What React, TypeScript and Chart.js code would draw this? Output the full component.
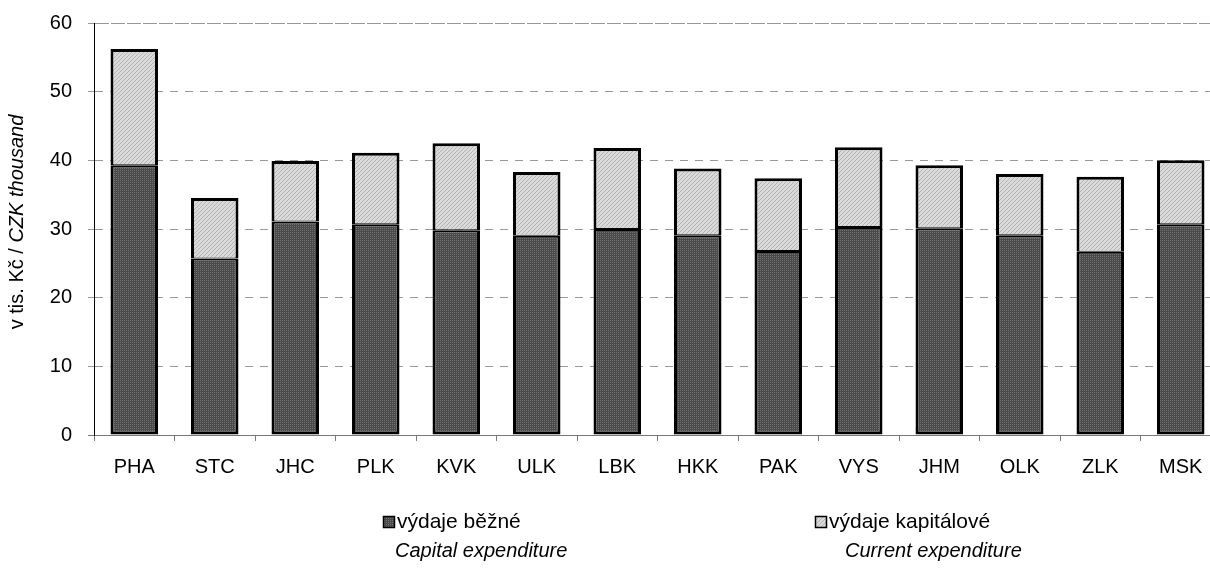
import React, { useEffect, useRef } from "react";
import { Chart, registerables } from "chart.js";

Chart.register(...registerables);

const categories = ["PHA", "STC", "JHC", "PLK", "KVK", "ULK", "LBK", "HKK", "PAK", "VYS", "JHM", "OLK", "ZLK", "MSK"];
const currentValues = [39.3, 25.7, 31.1, 30.7, 29.8, 29.0, 30.0, 29.1, 26.8, 30.3, 30.1, 29.1, 26.7, 30.7];
const capitalValues = [16.9, 8.8, 8.8, 10.4, 12.7, 9.3, 11.8, 9.7, 10.6, 11.6, 9.2, 8.9, 10.9, 9.3];
const seriesLabels = ["výdaje běžné", "výdaje kapitálové"];
const seriesSubtitles = ["Capital expenditure", "Current expenditure"];
const yTitleNormal = "v tis. Kč / ";
const yTitleItalic = "CZK thousand";

const FONT = "'Liberation Sans', Arial, sans-serif";

function makePattern(kind: "dark" | "light"): CanvasPattern | string {
  const c = document.createElement("canvas");
  c.width = 4;
  c.height = 4;
  const g = c.getContext("2d");
  if (!g) return kind === "dark" ? "#5a5a5a" : "#d2d2d2";
  if (kind === "dark") {
    g.fillStyle = "#4a4a4a";
    g.fillRect(0, 0, 4, 4);
    g.fillStyle = "#727272";
    g.fillRect(0, 0, 1, 1);
    g.fillRect(2, 2, 1, 1);
    g.fillRect(2, 0, 1, 1);
    g.fillRect(0, 2, 1, 1);
  } else {
    g.fillStyle = "#dadada";
    g.fillRect(0, 0, 4, 4);
    g.fillStyle = "#b4b4b4";
    for (let i = 0; i < 4; i++) g.fillRect(i, 3 - i, 1, 1);
  }
  const p = g.createPattern(c, "repeat");
  return p || (kind === "dark" ? "#5a5a5a" : "#d2d2d2");
}

export default function App() {
  const ref = useRef<HTMLCanvasElement | null>(null);

  useEffect(() => {
    const canvas = ref.current;
    if (!canvas) return;
    const darkFill = makePattern("dark");
    const lightFill = makePattern("light");

    const overlay = {
      id: "overlay",
      afterDraw(chart: any) {
        const ctx = chart.ctx as CanvasRenderingContext2D;
        ctx.save();
        // y axis title
        ctx.translate(17, 222);
        ctx.rotate(-Math.PI / 2);
        ctx.fillStyle = "#000";
        ctx.textBaseline = "middle";
        ctx.font = `20px ${FONT}`;
        const w1 = ctx.measureText(yTitleNormal).width;
        ctx.font = `italic 20px ${FONT}`;
        const w2 = ctx.measureText(yTitleItalic).width;
        const start = -(w1 + w2) / 2;
        ctx.textAlign = "left";
        ctx.font = `20px ${FONT}`;
        ctx.fillText(yTitleNormal, start, 0);
        ctx.font = `italic 20px ${FONT}`;
        ctx.fillText(yTitleItalic, start + w1, 0);
        ctx.restore();

        // legend
        const items = [
          { x: 383, fill: darkFill, label: seriesLabels[0], sub: seriesSubtitles[0], subX: 395 },
          { x: 815, fill: lightFill, label: seriesLabels[1], sub: seriesSubtitles[1], subX: 845 },
        ];
        ctx.save();
        for (const it of items) {
          ctx.fillStyle = it.fill as any;
          ctx.fillRect(it.x, 516, 11, 11);
          ctx.strokeStyle = "#000";
          ctx.lineWidth = 1.5;
          ctx.strokeRect(it.x + 0.5, 516.5, 11, 11);
          ctx.fillStyle = "#000";
          ctx.textAlign = "left";
          ctx.textBaseline = "alphabetic";
          ctx.font = `21px ${FONT}`;
          ctx.fillText(it.label, it.x + 14, 528);
          ctx.font = `italic 20px ${FONT}`;
          ctx.fillText(it.sub, it.subX, 557);
        }
        ctx.restore();
      },
    };

    const chart = new Chart(canvas, {
      type: "bar",
      data: {
        labels: categories,
        datasets: [
          {
            label: seriesLabels[0],
            data: currentValues,
            backgroundColor: darkFill as any,
            borderColor: "#000",
            borderWidth: { left: 3, right: 3, bottom: 3, top: 2 },
            borderSkipped: false,
            barPercentage: 0.59,
            categoryPercentage: 1,
          },
          {
            label: seriesLabels[1],
            data: capitalValues,
            backgroundColor: lightFill as any,
            borderColor: "#000",
            borderWidth: { left: 3, right: 3, bottom: 1, top: 3 },
            borderSkipped: false,
            barPercentage: 0.59,
            categoryPercentage: 1,
          },
        ],
      },
      options: {
        responsive: false,
        animation: false,
        devicePixelRatio: 1,
        layout: { padding: { top: 23, right: 1, left: 0, bottom: 0 } },
        plugins: {
          legend: { display: false },
          tooltip: { enabled: false },
          title: { display: false },
        },
        scales: {
          x: {
            stacked: true,
            grid: {
              display: true,
              drawOnChartArea: false,
              drawTicks: true,
              tickLength: 6,
              color: "#777",
              offset: true,
            },
            border: { display: true, color: "#777", width: 1 },
            ticks: {
              color: "#000",
              font: { family: FONT, size: 20 },
              padding: 14,
              maxRotation: 0,
            },
            afterFit(scale: any) {
              scale.height = 134;
              scale.paddingLeft = 0;
              scale.paddingRight = 0;
            },
          },
          y: {
            stacked: true,
            min: 0,
            max: 60,
            grid: {
              color: (c: any) => (c.tick && c.tick.value === 0 ? "#777" : "#999"),
              lineWidth: 1,
              tickLength: 6,
              drawTicks: true,
            },
            border: {
              display: true,
              color: "#000",
              width: 1,
              dash: (c: any) => (c.tick && c.tick.value === 60 ? [14, 2] : [8, 7]),
            } as any,
            ticks: {
              stepSize: 10,
              color: "#000",
              font: { family: FONT, size: 20 },
              padding: 16,
            },
            afterFit(scale: any) {
              scale.width = 94;
              scale.paddingTop = 0;
              scale.paddingBottom = 0;
            },
          },
        },
      },
      plugins: [overlay],
    });

    return () => chart.destroy();
  }, []);

  return (
    <div style={{ position: "fixed", left: 0, top: 0, width: 1210, height: 569, overflow: "hidden", background: "#fff" }}>
      <canvas ref={ref} width={1222} height={569} style={{ display: "block" }} />
    </div>
  );
}
